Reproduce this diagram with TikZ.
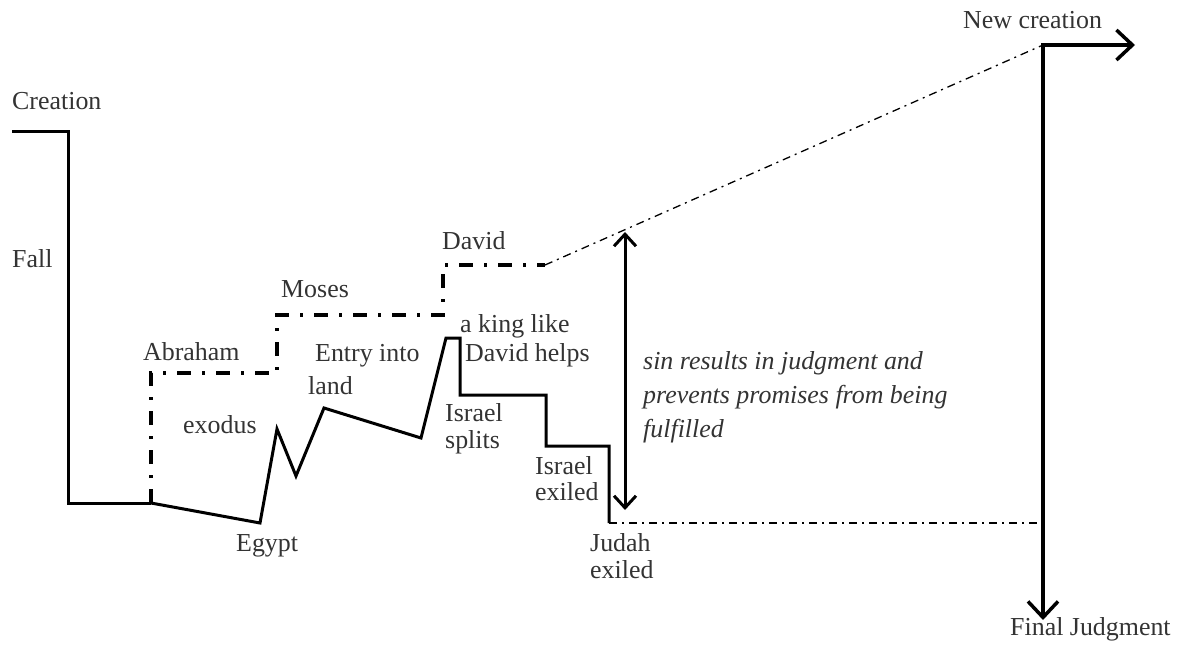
\documentclass[tikz,border=0pt]{standalone}
\usepackage{fontspec}
\setmainfont{Liberation Serif}
\usetikzlibrary{arrows.meta}
\begin{document}
\begin{tikzpicture}[x=1bp,y=-1bp,
  lbl/.style={anchor=base west,inner sep=0pt,text=black!80,font=\fontsize{26}{34}\selectfont},
  solidline/.style={line width=3bp,line join=miter},
  promise/.style={line width=4bp,dash pattern=on 14bp off 11bp on 3bp off 11bp},
  thindd/.style={line width=1.3bp,dash pattern=on 8bp off 5bp on 2bp off 5bp},
  barb/.style={line width=3bp},
]
\useasboundingbox (0,0) rectangle (1191,645);
% coordinates
\coordinate (c0) at (12,132);
\coordinate (c1) at (68,132);
\coordinate (c2) at (68,503);
\coordinate (c3) at (151,503);
\coordinate (ab1) at (151,373);
\coordinate (ab2) at (277,373);
\coordinate (mo1) at (277,315);
\coordinate (mo2) at (443,315);
\coordinate (da1) at (443,265);
\coordinate (da2) at (545,265);
\coordinate (eg) at (260,523);
\coordinate (ex1) at (277,429);
\coordinate (ex2) at (296,476);
\coordinate (la1) at (324,408);
\coordinate (la2) at (421,438);
\coordinate (k1) at (446,338);
\coordinate (k2) at (460,338);
\coordinate (s1) at (460,395);
\coordinate (s2) at (546,395);
\coordinate (s3) at (546,446);
\coordinate (s4) at (609,446);
\coordinate (s5) at (609,523);
\coordinate (nc) at (1043,45);
\coordinate (ncEnd) at (1135,45);
\coordinate (fjEnd) at (1043,620);
\coordinate (fjMid) at (1043,523);
\coordinate (arTop) at (625,232);
\coordinate (arBot) at (625,510);
% texts
\node[lbl] (creation) at (12,110) {Creation};
\node[lbl] (fall) at (12,268) {Fall};
\node[lbl] (abraham) at (143,360) {Abraham};
\node[lbl] (moses) at (281,298) {Moses};
\node[lbl] (david) at (442,250) {David};
\node[lbl] (exodus) at (183,433) {exodus};
\node[lbl] (entry) at (315,361) {Entry into};
\node[lbl] (land) at (308,394) {land};
\node[lbl] (egypt) at (236,551) {Egypt};
\node[lbl] (king) at (460,333) {a king like};
\node[lbl] (helps) at (465,361) {David helps};
\node[lbl] (isr1) at (445,421) {Israel};
\node[lbl] (splits) at (445,448) {splits};
\node[lbl] (isr2) at (535,474) {Israel};
\node[lbl] (exiled1) at (535,500) {exiled};
\node[lbl] (judah) at (590,551) {Judah};
\node[lbl] (exiled2) at (590,578) {exiled};
\node[lbl,font=\fontsize{26}{34}\selectfont\itshape] (sin1) at (643,369) {sin results in judgment and};
\node[lbl,font=\fontsize{26}{34}\selectfont\itshape] (sin2) at (643,403) {prevents promises from being};
\node[lbl,font=\fontsize{26}{34}\selectfont\itshape] (sin3) at (643,437) {fulfilled};
\node[lbl] (newc) at (963,29) {New creation};
\node[lbl] (finalj) at (1010,635) {Final Judgment};
% lines
\draw[solidline] (c0) -- (c1) -- (c2) -- (c3);
\draw[promise] (c3) -- (ab1) -- (ab2) -- (mo1) -- (mo2) -- (da1) -- (da2);
\draw[thindd] (da2) -- (nc);
\draw[solidline] (c3) -- (eg) -- (ex1) -- (ex2) -- (la1) -- (la2) -- (k1) -- (k2) -- (s1) -- (s2) -- (s3) -- (s4) -- (s5);
\draw[thindd] (s5) -- (fjMid);
\draw[barb,{Straight Barb[length=12bp,width=22bp]}-{Straight Barb[length=12bp,width=22bp]}] (arTop) -- (arBot);
\draw[line width=3.5bp,line join=miter,{Straight Barb[length=16bp,width=30bp]}-{Straight Barb[length=16bp,width=30bp]}] (fjEnd) -- (nc) -- (ncEnd);
\end{tikzpicture}
\end{document}
